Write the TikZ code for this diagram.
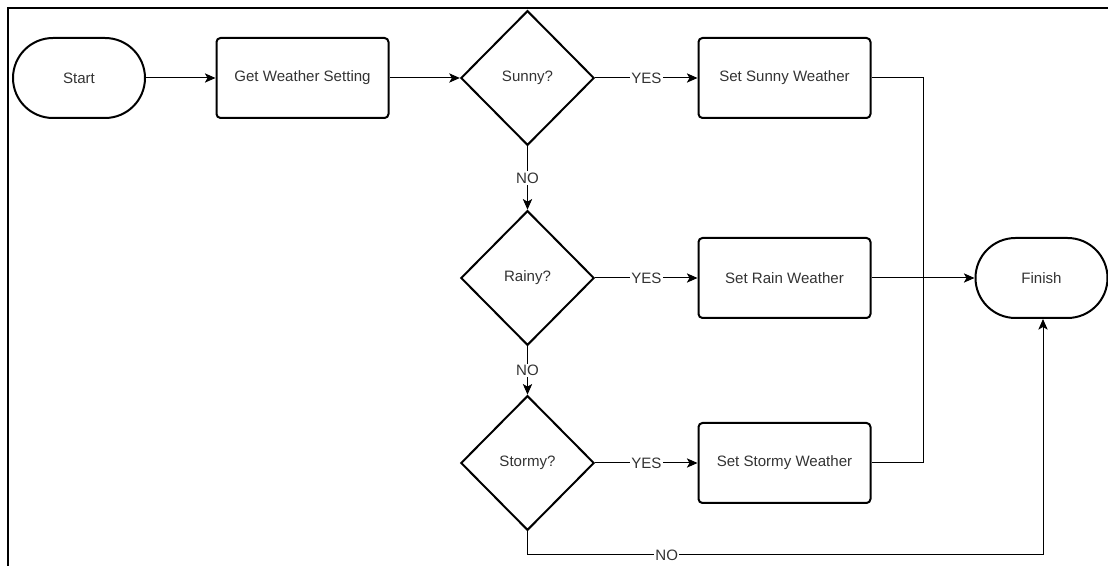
\documentclass[tikz,border=0pt]{standalone}
\usepackage{fontspec}
\setmainfont{Liberation Sans}
\usetikzlibrary{shapes.geometric,arrows.meta}
\definecolor{txt}{HTML}{333333}
\begin{document}
\begin{tikzpicture}[x=0.75pt,y=-0.75pt,
  every node/.style={font=\fontsize{11.3pt}{13pt}\selectfont, text=txt},
  procbox/.style={draw=black, line width=1.5pt, rounded corners=3pt, minimum width=129pt, minimum height=60pt, inner sep=0pt},
  termbox/.style={draw=black, line width=1.5pt, rounded corners=30pt, minimum width=99pt, minimum height=60pt, inner sep=0pt},
  decbox/.style={draw=black, line width=1.5pt, diamond, minimum width=100pt, minimum height=101pt, inner sep=0pt},
  conn/.style={draw=black, line width=0.75pt, -{Stealth[length=8pt,width=7pt,inset=2pt]}},
  plain/.style={draw=black, line width=0.75pt},
  lbl/.style={fill=white, inner sep=1pt}]
\useasboundingbox (0,0) rectangle (1108,566);
\draw[line width=1.5pt] (8,566) -- (8,8) -- (1108,8);
\node[termbox] (start) at (79,78) {Start};
\node[procbox] (get) at (302.5,78) {Get Weather Setting};
\node[decbox] (sunny) at (527.5,78) {Sunny?};
\node[decbox] (rainy) at (527.5,278) {Rainy?};
\node[decbox] (stormy) at (527.5,463) {Stormy?};
\node[procbox] (ssun) at (784.5,78) {Set Sunny Weather};
\node[procbox] (srain) at (784.5,278) {Set Rain Weather};
\node[procbox] (sstorm) at (784.5,463) {Set Stormy Weather};
\node[termbox] (finish) at (1041.5,278) {Finish};
\coordinate (jtop) at (923,78);
\coordinate (jbot) at (923,463);
\coordinate (bl) at (527.5,555);
\coordinate (br) at (1043,555);
\draw[conn] (start) -- (get);
\draw[conn] (get) -- (sunny);
\draw[conn] (sunny) -- node[lbl]{YES} (ssun);
\draw[conn] (rainy) -- node[lbl]{YES} (srain);
\draw[conn] (stormy) -- node[lbl]{YES} (sstorm);
\draw[conn] (sunny) -- node[lbl]{NO} (rainy);
\draw[conn] (rainy) -- node[lbl]{NO} (stormy);
\draw[plain] (ssun.east) -- (jtop) -- (jbot) -- (sstorm.east);
\draw[conn] (srain) -- (finish);
\draw[plain] (stormy.south) -- (bl) -- node[lbl, pos=0.27]{NO} (br);
\draw[conn] (br) -- (finish.south -| br);
\end{tikzpicture}
\end{document}
